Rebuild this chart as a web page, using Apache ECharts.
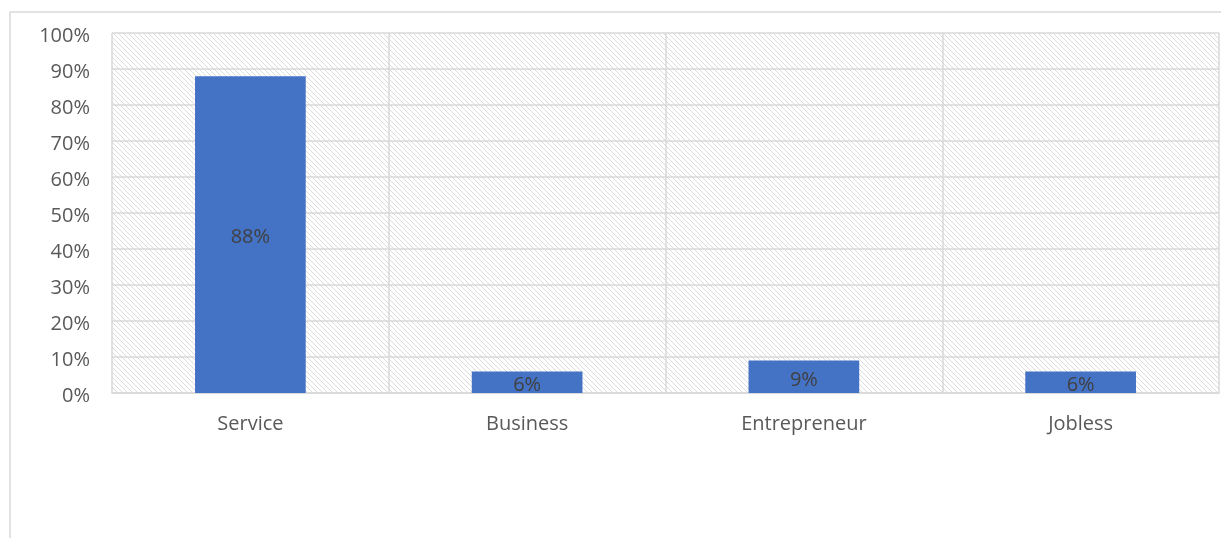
<!DOCTYPE html>
<html>
<head>
<meta charset="utf-8">
<script src="https://cdn.jsdelivr.net/npm/echarts@6/dist/echarts.min.js"></script>
<style>
  html, body { margin: 0; padding: 0; background: #fff; }
  #chart { width: 1221px; height: 538px; }
</style>
</head>
<body>
<div id="chart"></div>
<script>
const categories = ['Service', 'Business', 'Entrepreneur', 'Jobless'];
const shares = [0.88, 0.06, 0.09, 0.06];
const yTicks = { min: 0, max: 1, interval: 0.1 };

// diagonal hatch tile for the plot background
function hatchTile() {
  const size = 5;
  const c = document.createElement('canvas');
  c.width = size; c.height = size;
  const ctx = c.getContext('2d');
  ctx.fillStyle = '#ffffff';
  ctx.fillRect(0, 0, size, size);
  ctx.fillStyle = '#dcdcdc';
  for (let i = 0; i < size; i++) {
    ctx.fillRect(i, i, 1, 1);
  }
  return c;
}

const fontFamily = '"Open Sans", "Noto Sans", sans-serif';
const chart = echarts.init(document.getElementById('chart'), null, { renderer: 'canvas' });
chart.setOption({
  animation: false,
  backgroundColor: '#ffffff',
  graphic: [{
    type: 'rect',
    shape: { x: 10, y: 12, width: 1240, height: 560 },
    style: { fill: 'none', stroke: '#d9d9d9', lineWidth: 1.5 },
    silent: true, z: -1
  }],
  grid: {
    left: 112, right: 2, top: 33, bottom: 145,
    show: true,
    borderWidth: 0,
    backgroundColor: { image: hatchTile(), repeat: 'repeat' }
  },
  xAxis: {
    type: 'category',
    data: categories,
    axisLine: { show: true, lineStyle: { color: '#d9d9d9', width: 1.5 } },
    axisTick: { show: false },
    axisLabel: { color: '#595959', fontSize: 20, fontFamily: fontFamily, margin: 21 },
    splitLine: { show: true, lineStyle: { color: '#d9d9d9', width: 1.5 } }
  },
  yAxis: {
    type: 'value',
    min: yTicks.min, max: yTicks.max, interval: yTicks.interval,
    axisLine: { show: false },
    axisTick: { show: false },
    axisLabel: {
      color: '#595959', fontSize: 20, fontFamily: fontFamily, margin: 22,
      lineHeight: 26, verticalAlign: 'top', padding: [-10, 0, 0, 0],
      formatter: v => Math.round(v * 100) + '%'
    },
    splitLine: { show: true, lineStyle: { color: '#d9d9d9', width: 1.5 } }
  },
  series: [{
    type: 'bar',
    data: shares,
    barCategoryGap: '60%',
    itemStyle: { color: '#4472C4' },
    label: {
      show: true,
      position: 'inside',
      offset: [0, 3],
      color: '#404040',
      fontSize: 20,
      fontFamily: fontFamily,
      formatter: p => Math.round(p.value * 100) + '%'
    }
  }]
});
</script>
</body>
</html>
